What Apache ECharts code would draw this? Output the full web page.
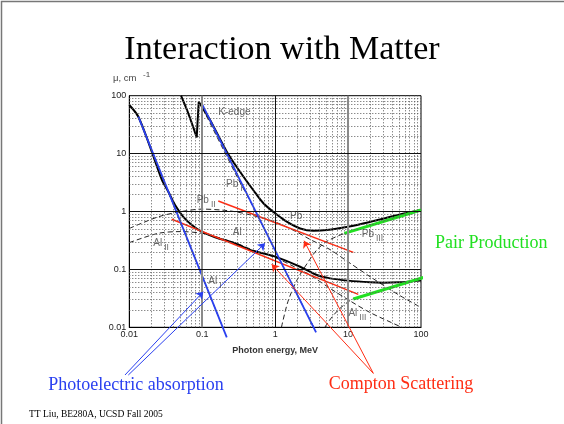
<!DOCTYPE html>
<html>
<head>
<meta charset="utf-8">
<script src="https://cdn.jsdelivr.net/npm/echarts@6/dist/echarts.min.js"></script>
<style>
html,body{margin:0;padding:0;background:#fff;}
#chart{width:564px;height:424px;}
</style>
</head>
<body>
<div id="chart"></div>
<script>
// Linear attenuation coefficient mu (cm^-1) against photon energy (MeV), lead and aluminium.
// Each point is [energy MeV, mu cm^-1].

// Totals
const pbTotalBelowEdge = [[0.0512,100],[0.0644,49.7],[0.075,29],[0.084,19.1]];
const pbKEdge = [[0.084,19.1],[0.0896,78.8]];
const pbTotalAboveEdge = [[0.0896,78.8],[0.128,38],[0.217,10.8],[0.33,4.86],[0.5,2.35],[0.69,1.39],[1,0.93],[1.44,0.667],[2.2,0.51],[3.34,0.466],[5.1,0.478],[10,0.547],[20,0.66],[30,0.75],[50,0.88],[100,1.06]];
const alTotal = [[0.01,69],[0.0133,43.4],[0.0192,13.2],[0.0278,3.6],[0.0343,2.2],[0.0424,1.29],[0.055,0.81],[0.075,0.56],[0.098,0.448],[0.15,0.36],[0.282,0.283],[0.453,0.216],[1,0.166],[2.2,0.111],[3.72,0.080],[5.66,0.070],[10,0.064],[20,0.060],[30,0.059],[50,0.060],[100,0.064]];

// Components: I photoelectric, II Compton, III pair production
const pbPhoto = [[0.0896,78.8],[0.1,62],[0.2,11],[0.3,4.0],[0.5,1.2],[1,0.21],[2,0.037],[3.4,0.01]];
const alPhoto = [[0.01,68],[0.0133,42],[0.02,11.5],[0.03,3.3],[0.05,0.66],[0.1,0.076],[0.191,0.01]];
const pbCompton = [[0.01,0.51],[0.025,0.81],[0.05,0.99],[0.1,1.1],[0.2,1.05],[0.3,0.98],[0.5,0.85],[1,0.66],[2,0.44],[3,0.33],[5.66,0.22],[10,0.135],[20,0.075],[50,0.036],[100,0.022]];
const alCompton = [[0.01,0.29],[0.025,0.42],[0.052,0.45],[0.1,0.42],[0.15,0.37],[0.2,0.33],[0.3,0.28],[0.5,0.215],[1,0.16],[2,0.105],[3,0.08],[5.66,0.047],[10,0.030],[20,0.018],[51.6,0.0103],[100,0.0068]];
const pbPair = [[1.22,0.01],[1.5,0.028],[2,0.066],[3,0.15],[3.72,0.216],[5,0.3],[8.9,0.42],[20,0.58],[50,0.83],[100,1.02]];
const alPair = [[4.8,0.01],[6,0.015],[8,0.022],[11.7,0.031],[20,0.038],[50,0.054],[100,0.069]];

// Straight-line approximations of each process
const comptonPb = [[0.166,1.52],[11.8,0.197]];
const comptonAl = [[0.0382,0.733],[13.8,0.0371]];
const pairPb = [[8.9,0.42],[100,1.06]];
const pairAl = [[11.8,0.0308],[126,0.0769]];
const photoAl = [[0.0133,43.4],[0.217,0.00672]];
const photoPb = [[0.0984,73.9],[3.64,0.0082]];

// Pointers from the captions to the approximations
const photoPointers = [[[0.00873,0.0015],[0.1035,0.0412]],[[0.0097,0.0015],[0.726,0.2825]]];
const comptonPointers = [[[22.2,0.0016],[0.897,0.1225]],[[22.2,0.0016],[2.49,0.313]]];

// Curve labels: [energy, mu, text, subscript]
const curveNotes = [
  [0.166,50.2,'K-edge',''],
  [0.212,2.87,'Pb','I'],
  [0.084,1.52,'Pb','II'],
  [1.6,0.80,'Pb',''],
  [0.262,0.426,'Al',''],
  [15.4,0.393,'Pb','III'],
  [0.0213,0.275,'Al','II'],
  [0.121,0.0594,'Al','I'],
  [10.1,0.017,'Al','III']
];

// Axis decades and the minor grid multipliers within each decade
const decades = [0.01,0.1,1,10];
const minorSteps = [2,3,4,5,6,7,8,9];
const minorValues = [];
decades.forEach(d => minorSteps.forEach(m => minorValues.push(+(d*m).toPrecision(3))));

const SANS = '"Liberation Sans", Arial, sans-serif';
const SERIF = '"Liberation Serif", "Times New Roman", serif';
const RED = '#ff2d14';
const GREEN = '#22e022';
const BLUE = '#2a40f0';

const chart = echarts.init(document.getElementById('chart'), null, {renderer:'canvas'});

const minorStyle = {color:'#5a5a5a', width:1, type:[1,2]};
const gridLines = []
  .concat(minorValues.map(v => ({xAxis:v, lineStyle:minorStyle})))
  .concat(minorValues.map(v => ({yAxis:v, lineStyle:minorStyle})))
  .concat([
    {xAxis:0.1, lineStyle:{color:'#8a8a8a', width:2, type:'solid'}},
    {xAxis:1, lineStyle:{color:'#111', width:1, type:'solid'}},
    {xAxis:10, lineStyle:{color:'#8a8a8a', width:2, type:'solid'}},
    {yAxis:0.1, lineStyle:{color:'#111', width:1.2, type:'solid'}},
    {yAxis:1, lineStyle:{color:'#111', width:1.2, type:'solid'}},
    {yAxis:10, lineStyle:{color:'#111', width:1.2, type:'solid'}}
  ]);

function dashed(data) {
  return {type:'line', data:data, symbol:'none', smooth:0.3, z:2, silent:true,
    lineStyle:{color:'#222', width:1, type:[5,3]}};
}
function total(data, smooth) {
  return {type:'line', data:data, symbol:'none', smooth:smooth, z:3, silent:true,
    lineStyle:{color:'#000', width:2}};
}
function fit(data, color, width) {
  return {type:'line', data:data, symbol:'none', z:4, silent:true, clip:false,
    lineStyle:{color:color, width:width}};
}
function pointers(list, color) {
  return {type:'lines', coordinateSystem:'cartesian2d', z:5, silent:true, clip:false,
    symbol:['none','arrow'], symbolSize:7,
    lineStyle:{color:color, width:1, opacity:1},
    data:list.map(c => ({coords:c}))};
}

const option = {
  animation:false,
  backgroundColor:'#fff',
  grid:{left:129.3, right:143, top:95.7, bottom:96.7, show:true, borderColor:'#000', borderWidth:1, backgroundColor:'transparent'},
  xAxis:{
    type:'log', logBase:10, min:0.01, max:100,
    axisLine:{show:true, lineStyle:{color:'#000', width:1}},
    axisTick:{show:false},
    splitLine:{show:false},
    axisLabel:{fontFamily:SANS, fontSize:9, color:'#222', margin:3,
      formatter:v => String(+v.toPrecision(3))},
    name:'Photon energy, MeV', nameLocation:'middle', nameGap:19,
    nameTextStyle:{fontFamily:SANS, fontSize:9, fontWeight:'bold', color:'#333'}
  },
  yAxis:{
    type:'log', logBase:10, min:0.01, max:100,
    axisLine:{show:true, lineStyle:{color:'#000', width:1}},
    axisTick:{show:false},
    splitLine:{show:false},
    axisLabel:{fontFamily:SANS, fontSize:9, color:'#222', margin:3,
      formatter:v => String(+v.toPrecision(3))}
  },
  graphic:[
    {type:'rect', z:0, shape:{x:1.5, y:1.5, width:600, height:500},
      style:{fill:'none', stroke:'#777', lineWidth:1.5}},
    {type:'text', x:282, y:50, style:{text:'Interaction with Matter', font:'34px ' + SERIF,
      fill:'#000', align:'center', verticalAlign:'middle'}},
    {type:'text', x:113, y:78, style:{text:'\u03bc, cm', font:'9.5px ' + SANS,
      fill:'#444', align:'left', verticalAlign:'middle'}},
    {type:'text', x:143, y:74.5, style:{text:'-1', font:'8px ' + SANS,
      fill:'#444', align:'left', verticalAlign:'middle'}},
    {type:'text', x:435, y:243, style:{text:'Pair Production', font:'18px ' + SERIF,
      fill:GREEN, align:'left', verticalAlign:'middle'}},
    {type:'text', x:136, y:385, style:{text:'Photoelectric absorption', font:'18px ' + SERIF,
      fill:BLUE, align:'center', verticalAlign:'middle'}},
    {type:'text', x:401, y:384, style:{text:'Compton Scattering', font:'18px ' + SERIF,
      fill:RED, align:'center', verticalAlign:'middle'}},
    {type:'text', x:29, y:414, style:{text:'TT Liu, BE280A, UCSD Fall 2005', font:'9.5px ' + SERIF,
      fill:'#000', align:'left', verticalAlign:'middle'}}
  ],
  series:[
    {type:'line', data:[[1,1]], symbol:'none', lineStyle:{opacity:0}, z:1, silent:true,
      markLine:{silent:true, symbol:['none','none'], label:{show:false}, animation:false, data:gridLines}},
    dashed(pbPhoto), dashed(alPhoto), dashed(pbCompton), dashed(alCompton), dashed(pbPair), dashed(alPair),
    total(pbTotalBelowEdge, 0.2), total(pbKEdge, false), total(pbTotalAboveEdge, 0.3), total(alTotal, 0.3),
    fit(comptonPb, RED, 1.5), fit(comptonAl, RED, 1.5),
    fit(pairPb, GREEN, 3), fit(pairAl, GREEN, 3),
    fit(photoAl, BLUE, 1.8), fit(photoPb, BLUE, 1.8),
    pointers(photoPointers, BLUE), pointers(comptonPointers, RED),
    {type:'scatter', z:6, silent:true, symbolSize:0,
      data:curveNotes.map(n => ({value:[n[0], n[1]], note:n[2], sub:n[3]})),
      label:{show:true, position:'right', distance:0,
        formatter:p => '{m|' + p.data.note + '}' + (p.data.sub ? '{s|' + p.data.sub + '}' : ''),
        rich:{
          m:{fontFamily:SANS, fontSize:10, color:'#444', lineHeight:12, verticalAlign:'top'},
          s:{fontFamily:SANS, fontSize:8.5, color:'#444', lineHeight:10, padding:[5,0,0,2], verticalAlign:'top'}
        }}}
  ]
};
chart.setOption(option);
</script>
</body>
</html>
